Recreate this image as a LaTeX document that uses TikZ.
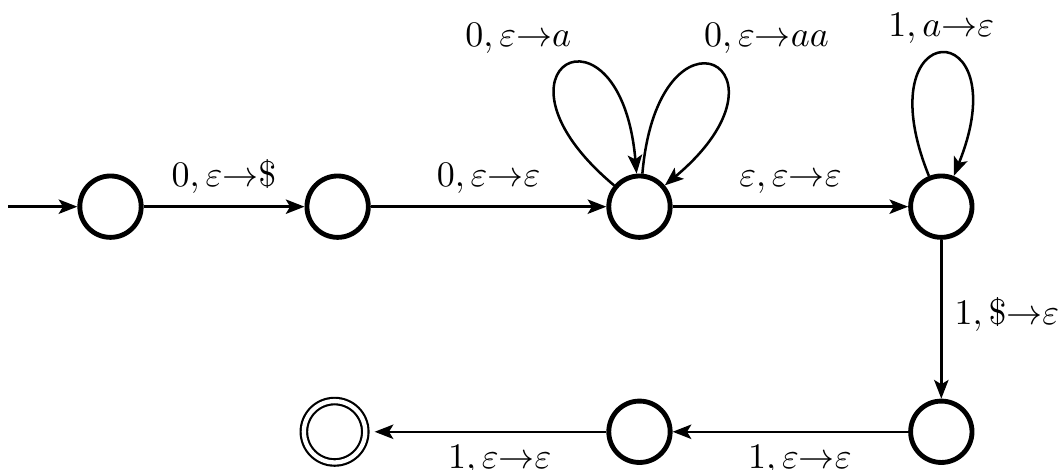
\documentclass[tikz,border=0pt]{standalone}
\usepackage{amsmath}
\usetikzlibrary{arrows.meta}
\begin{document}
\begin{tikzpicture}[
    >={Stealth[length=5.2pt, width=4pt, inset=1.2pt]},
    state/.style={circle, draw, line width=1.35pt, minimum size=0.6cm, inner sep=0pt},
    accepting/.style={circle, draw, double, line width=0.6pt, double distance=1.2pt, minimum size=0.6cm, inner sep=0pt, outer sep=2.6pt},
    trans/.style={->, line width=0.7pt}
]
    % 0. MARGINS OF THE PICTURE
    \useasboundingbox (0,0) rectangle (10.36,4.59);

    % 1. STATES (top row, then bottom row from right to left)
    \node[state] (q0) at (1.08,2.57) {};
    \node[state] (q1) at (3.30,2.57) {};
    \node[state] (q2) at (6.25,2.57) {};
    \node[state] (q3) at (9.20,2.57) {};
    \node[state] (q4) at (9.20,0.37) {};
    \node[state] (q5) at (6.25,0.37) {};
    \node[accepting] (q6) at (3.27,0.37) {};
    \coordinate (start) at (0.08,2.57);

    % 2. TRANSITIONS
    \draw[trans] (start) -- (q0);
    \draw[trans] (q0) -- node[above] {$0,\varepsilon{\rightarrow}\$$} (q1);
    \draw[trans] (q1) -- node[above] {$0,\varepsilon{\rightarrow}\varepsilon$} (q2);
    \draw[trans] (q2) -- node[above] {$\varepsilon,\varepsilon{\rightarrow}\varepsilon$} (q3);
    \draw[trans] (q3) -- node[right, pos=0.47] {$1,\${\rightarrow}\varepsilon$} (q4);
    \draw[trans] (q4) -- node[below, pos=0.46] {$1,\varepsilon{\rightarrow}\varepsilon$} (q5);
    \draw[trans] (q5) -- node[below, pos=0.46] {$1,\varepsilon{\rightarrow}\varepsilon$} (q6);

    % 3. LOOPS
    \draw[trans] (q2) to[out=140, in=95, distance=1.8cm]
        node[above left, xshift=5pt] {$0,\varepsilon{\rightarrow}a$} (q2);
    \draw[trans] (q2) to[out=85, in=40, distance=1.8cm]
        node[above right, xshift=-6pt] {$0,\varepsilon{\rightarrow}aa$} (q2);
    \draw[trans] (q3) to[out=112, in=68, distance=1.72cm]
        node[above=-1pt] {$1,a{\rightarrow}\varepsilon$} (q3);

\end{tikzpicture}
\end{document}
